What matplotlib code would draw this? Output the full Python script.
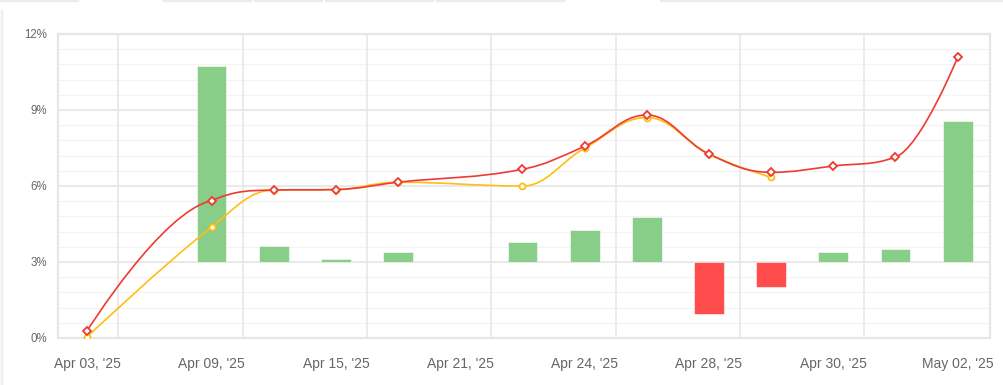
import numpy as np
import matplotlib.pyplot as plt
from matplotlib.path import Path
from matplotlib.patches import PathPatch, Rectangle

plt.rcParams['font.family'] = ['Liberation Sans', 'DejaVu Sans']

# données (NaN = pas de point)
tick_labels = ["Apr 03, '25", "", "Apr 09, '25", "", "Apr 15, '25", "", "Apr 21, '25", "",
               "Apr 24, '25", "", "Apr 28, '25", "", "Apr 30, '25", "", "May 02, '25"]
bar_top = [np.nan, np.nan, 10.74, 3.63, 3.10, 3.39, np.nan, 3.79, 4.26, 4.78, 0.95, 2.01, 3.39, 3.51, 8.57]
red_line = [0.29, np.nan, 5.42, 5.84, 5.86, 6.15, np.nan, 6.66, 7.57, 8.80, 7.26, 6.54, 6.79, 7.14, 11.08]
yellow_line = [0.05, np.nan, 4.38, 5.84, 5.86, 6.15, np.nan, 6.00, 7.49, 8.70, 7.26, 6.34, np.nan, np.nan, np.nan]
base = 3.0

green = '#88cd88'
red_bar = '#ff4c4c'
red = '#ee3a32'
yellow = '#ffbe12'


def spline_path(xs, ys, smoothing=1.5):
  # courbe "spline" façon highcharts : béziers cubiques avec points de contrôle
  n = len(xs)
  left = [(xs[i], ys[i]) for i in range(n)]
  right = [(xs[i], ys[i]) for i in range(n)]
  d = smoothing + 1
  for i in range(1, n - 1):
    px, py = xs[i], ys[i]
    lx, ly = xs[i - 1], ys[i - 1]
    nx, ny = xs[i + 1], ys[i + 1]
    lcx = (smoothing * px + lx) / d
    lcy = (smoothing * py + ly) / d
    rcx = (smoothing * px + nx) / d
    rcy = (smoothing * py + ny) / d
    if rcx != lcx:
      corr = (rcy - lcy) * (rcx - px) / (rcx - lcx) + py - rcy
      lcy += corr
      rcy += corr
      if lcy > ly and lcy > py:
        lcy = max(ly, py); rcy = 2 * py - lcy
      elif lcy < ly and lcy < py:
        lcy = min(ly, py); rcy = 2 * py - lcy
      if rcy > ny and rcy > py:
        rcy = max(ny, py); lcy = 2 * py - rcy
      elif rcy < ny and rcy < py:
        rcy = min(ny, py); lcy = 2 * py - rcy
    left[i] = (lcx, lcy)
    right[i] = (rcx, rcy)
  verts = [(xs[0], ys[0])]
  codes = [Path.MOVETO]
  for i in range(1, n):
    verts += [right[i - 1], left[i], (xs[i], ys[i])]
    codes += [Path.CURVE4] * 3
  return Path(verts, codes)


x = np.arange(len(tick_labels))

fig = plt.figure(figsize=(10.04, 3.85), dpi=100)
ax = fig.add_axes([58 / 1004, 1 - 338 / 385, 932 / 1004, 304 / 385])

# barres autour de 3%
for i, v in enumerate(bar_top):
  if np.isnan(v):
    continue
  c = green if v >= base else red_bar
  ax.bar(x[i], v - base, bottom=base, width=0.48, color=c, edgecolor='#ffffff', linewidth=0.4, zorder=2)

for serie, col, mk, ms in [(yellow_line, yellow, 'o', 4.3), (red_line, red, 'D', 3.6)]:
  arr = np.array(serie)
  ok = ~np.isnan(arr)
  p = spline_path(x[ok].astype(float), arr[ok])
  ax.add_patch(PathPatch(p, facecolor='none', edgecolor=col, lw=1.2, zorder=3))
  ax.plot(x[ok], arr[ok], ls='none', marker=mk, ms=ms, mfc='white', mec=col, mew=1.3, zorder=4)

ax.set_xlim(-0.47, 14.52)
ax.set_ylim(0, 12)

ax.set_yticks([0, 3, 6, 9, 12])
ax.set_yticklabels(['0%', '3%', '6%', '9%', '12%'])
ax.set_yticks(np.arange(0, 12.01, 0.6), minor=True)
ax.set_xticks(x)
ax.set_xticklabels(tick_labels)

ax.tick_params(axis='y', which='both', length=0, pad=8, labelsize=8.3, labelcolor='#666666')
ax.tick_params(axis='x', length=0, pad=14, labelsize=10, labelcolor='#666666')

ax.grid(False)
for v in np.arange(0, 12.01, 0.6):
  ax.axhline(v, color='#f3f3f3', lw=0.8, zorder=0)
for v in [3, 6, 9]:
  ax.axhline(v, color='#e6e6e6', lw=1.2, zorder=1)
for g in np.arange(0.5, 13, 2):
  ax.axvline(g, color='#e8e8e8', lw=1.2, zorder=1)

for s in ax.spines.values():
  s.set_color('#e6e6e6')
  s.set_linewidth(1.6)

# petits détails du cadre de la page
fig.patches.append(Rectangle((1 / 1004, 0), 1.2 / 1004, 1 - 10 / 385, transform=fig.transFigure,
                             color='#eeeeee', zorder=0))
for a, b in [(0, 78), (163, 251), (254, 322), (325, 433), (436, 564), (660, 1004)]:
  fig.patches.append(Rectangle((a / 1004, 1 - 1.2 / 385), (b - a) / 1004, 1.2 / 385,
                               transform=fig.transFigure, color='#ebebeb', zorder=0))

fig.savefig('out.png', dpi=100)
